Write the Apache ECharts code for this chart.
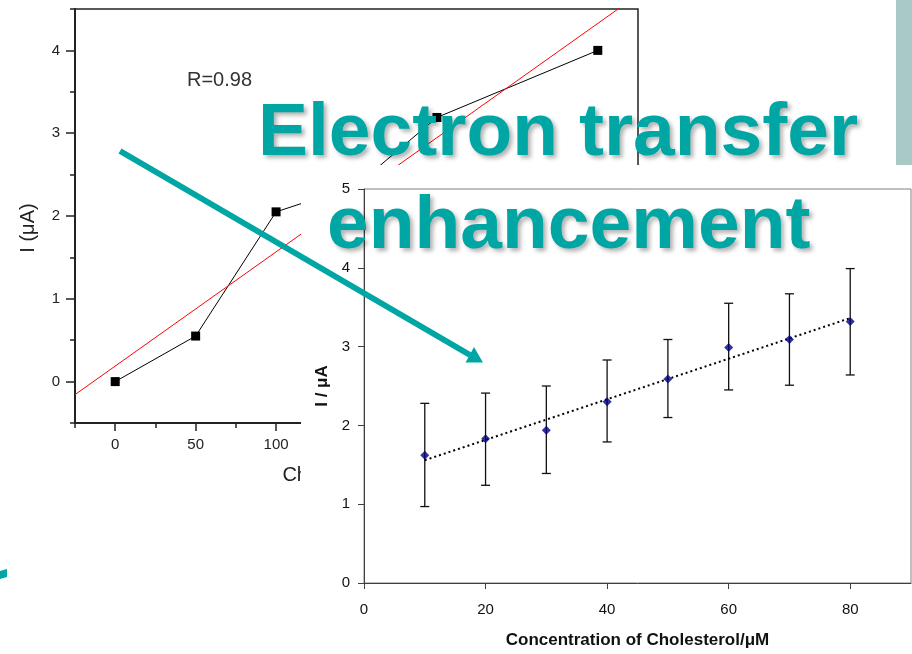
<!DOCTYPE html>
<html>
<head>
<meta charset="utf-8">
<script src="https://cdn.jsdelivr.net/npm/echarts@6/dist/echarts.min.js"></script>
<style>
  html, body { margin: 0; padding: 0; background: #fff; }
  #chart { width: 912px; height: 654px; }
</style>
</head>
<body>
<div id="chart"></div>
<script>
// Earlier calibration run (background panel)
const calibConc = [0, 50, 100, 150, 200, 300];
const calibCurrent = [0, 0.55, 2.05, 2.37, 3.19, 4.0];
const calibXMajor = [0, 50, 100, 150, 200, 250, 300];
const calibXMinor = [-25, 25, 75, 125, 175, 225, 275, 325];
const calibYMajor = [0, 1, 2, 3, 4];
const calibYMinor = [-0.5, 0.5, 1.5, 2.5, 3.5, 4.5];

// Cholesterol response with error bars (front panel)
const conc = [10, 20, 30, 40, 50, 60, 70, 80];
const current = [1.62, 1.83, 1.94, 2.30, 2.59, 2.99, 3.09, 3.32];
const errLow = [0.97, 1.24, 1.39, 1.79, 2.10, 2.45, 2.51, 2.64];
const errHigh = [2.28, 2.41, 2.50, 2.83, 3.09, 3.55, 3.67, 3.99];
const concTicks = [0, 20, 40, 60, 80];

const FONT = '"Liberation Sans", Arial, Helvetica, sans-serif';
const TEAL = '#00a6a3';

// ordinary least-squares fit
function linFit(xs, ys) {
  const n = xs.length;
  const mx = xs.reduce((a, b) => a + b, 0) / n;
  const my = ys.reduce((a, b) => a + b, 0) / n;
  let sxy = 0, sxx = 0;
  for (let i = 0; i < n; i++) {
    sxy += (xs[i] - mx) * (ys[i] - my);
    sxx += (xs[i] - mx) * (xs[i] - mx);
  }
  const slope = sxy / sxx;
  return { slope, intercept: my - slope * mx };
}

const calibFit = linFit(calibConc, calibCurrent);
const calibFitLine = [-25, 325].map(x => [x, calibFit.intercept + calibFit.slope * x]);

const fit = linFit(conc, current);
const fitLine = [conc[0], conc[conc.length - 1]].map(x => [x, fit.intercept + fit.slope * x]);

const chart = echarts.init(document.getElementById('chart'), null, { renderer: 'canvas' });

const backAxisColor = '#222';
const frontAxisColor = '#404040';

const option = {
  animation: false,
  backgroundColor: '#fff',
  grid: [
    { left: 75, top: 9, right: 274, bottom: 231, show: true, borderColor: '#222', borderWidth: 1.5, z: 0 },
    { left: 364, top: 189, right: 1, bottom: 69, show: true, borderColor: '#808080', borderWidth: 1, backgroundColor: '#fff', z: 11 }
  ],
  xAxis: [
    {
      gridIndex: 0, type: 'value', min: -25, max: 325, position: 'bottom', z: 2,
      axisLine: { onZero: false, lineStyle: { color: backAxisColor, width: 2 } },
      axisTick: { customValues: calibXMajor, length: 8, lineStyle: { color: backAxisColor, width: 1.5 } },
      axisLabel: { customValues: calibXMajor, fontSize: 15, color: '#222', margin: 14, fontFamily: FONT },
      splitLine: { show: false },
      name: 'Cholesterol (μM)', nameLocation: 'middle', nameGap: 42,
      nameTextStyle: { fontSize: 20, color: '#222', fontFamily: FONT }
    },
    {
      gridIndex: 0, type: 'value', min: -25, max: 325, position: 'bottom', z: 2,
      axisLine: { show: false, onZero: false },
      axisTick: { customValues: calibXMinor, length: 5, lineStyle: { color: backAxisColor, width: 1.5 } },
      axisLabel: { show: false },
      splitLine: { show: false }
    },
    {
      gridIndex: 1, type: 'value', min: 0, max: 90, position: 'bottom', z: 12,
      axisLine: { onZero: false, lineStyle: { color: frontAxisColor, width: 1 } },
      axisTick: { customValues: concTicks, length: 6, lineStyle: { color: frontAxisColor } },
      axisLabel: { customValues: concTicks, fontSize: 15, color: '#111', margin: 19, fontFamily: FONT },
      splitLine: { show: false },
      name: 'Concentration of Cholesterol/μM', nameLocation: 'middle', nameGap: 49,
      nameTextStyle: { fontSize: 17, fontWeight: 'bold', color: '#111', fontFamily: FONT }
    }
  ],
  yAxis: [
    {
      gridIndex: 0, type: 'value', min: -0.5, max: 4.5, position: 'left', z: 2,
      axisLine: { onZero: false, lineStyle: { color: backAxisColor, width: 2 } },
      axisTick: { customValues: calibYMajor, length: 9, lineStyle: { color: backAxisColor, width: 1.5 } },
      axisLabel: { customValues: calibYMajor, fontSize: 15, color: '#222', margin: 15, fontFamily: FONT },
      splitLine: { show: false },
      name: 'I (μA)', nameLocation: 'middle', nameGap: 37, nameRotate: 90,
      nameTextStyle: { fontSize: 20, color: '#222', fontFamily: FONT, padding: [0, 24, 0, 0] }
    },
    {
      gridIndex: 0, type: 'value', min: -0.5, max: 4.5, position: 'left', z: 2,
      axisLine: { show: false, onZero: false },
      axisTick: { customValues: calibYMinor, length: 5, lineStyle: { color: backAxisColor, width: 1.5 } },
      axisLabel: { show: false },
      splitLine: { show: false }
    },
    {
      gridIndex: 1, type: 'value', min: 0, max: 5, interval: 1, position: 'left', z: 12,
      axisLine: { show: true, onZero: false, lineStyle: { color: frontAxisColor, width: 1 } },
      axisTick: { show: true, length: 6, lineStyle: { color: frontAxisColor } },
      axisLabel: { fontSize: 15, color: '#111', margin: 14, fontFamily: FONT },
      splitLine: { show: false },
      name: 'I / μA', nameLocation: 'middle', nameGap: 33, nameRotate: 90,
      nameTextStyle: { fontSize: 17, fontWeight: 'bold', color: '#111', fontFamily: FONT }
    }
  ],
  series: [
    {
      type: 'line', xAxisIndex: 0, yAxisIndex: 0, z: 3,
      data: calibConc.map((x, i) => [x, calibCurrent[i]]),
      symbol: 'rect', symbolSize: 9,
      itemStyle: { color: '#000' },
      lineStyle: { color: '#000', width: 1 }
    },
    {
      type: 'line', xAxisIndex: 0, yAxisIndex: 0, z: 4,
      data: calibFitLine, symbol: 'none', clip: true,
      lineStyle: { color: '#ff0000', width: 1 }
    },
    {
      type: 'custom', xAxisIndex: 2, yAxisIndex: 2, z: 13,
      data: conc.map((x, i) => [x, errLow[i], errHigh[i]]),
      encode: { x: 0, y: [1, 2] },
      renderItem: function (params, api) {
        const x = api.value(0);
        const lo = api.coord([x, api.value(1)]);
        const hi = api.coord([x, api.value(2)]);
        const cap = 4.5;
        const style = { stroke: '#111', lineWidth: 1.3 };
        return {
          type: 'group',
          children: [
            { type: 'line', shape: { x1: lo[0], y1: lo[1], x2: hi[0], y2: hi[1] }, style },
            { type: 'line', shape: { x1: hi[0] - cap, y1: hi[1], x2: hi[0] + cap, y2: hi[1] }, style },
            { type: 'line', shape: { x1: lo[0] - cap, y1: lo[1], x2: lo[0] + cap, y2: lo[1] }, style }
          ]
        };
      }
    },
    {
      type: 'line', xAxisIndex: 2, yAxisIndex: 2, z: 14,
      data: fitLine, symbol: 'none',
      lineStyle: { color: '#000', width: 2, type: [2, 3] }
    },
    {
      type: 'scatter', xAxisIndex: 2, yAxisIndex: 2, z: 15,
      data: conc.map((x, i) => [x, current[i]]),
      symbol: 'diamond', symbolSize: 9,
      itemStyle: { color: '#000080' }
    }
  ],
  graphic: [
    // white backing card for the front panel
    { type: 'rect', z: 10, shape: { x: 301, y: 165, width: 611, height: 489 }, style: { fill: '#fff' } },
    // fit quality label on the calibration panel
    { type: 'text', z: 5, x: 187, y: 80, style: { text: 'R=0.98', font: '20px ' + FONT, fill: '#333', verticalAlign: 'middle' } },
    // decorative side bar
    { type: 'rect', z: 30, shape: { x: 896, y: 0, width: 16, height: 165 }, style: { fill: '#a9c9c7' } },
    // pointer arrow
    { type: 'line', z: 30, shape: { x1: 120, y1: 151, x2: 470, y2: 355 }, style: { stroke: TEAL, lineWidth: 6 } },
    { type: 'polygon', z: 30, shape: { points: [[483, 362.5], [465.5, 362.5], [474, 347]] }, style: { fill: TEAL } },
    { type: 'polygon', z: 30, shape: { points: [[0, 571], [7, 569], [7, 577], [0, 579]] }, style: { fill: TEAL } },
    // headline
    {
      type: 'text', z: 31, x: 258, y: 134,
      style: {
        text: 'Electron transfer', font: 'bold 75px ' + FONT, fill: TEAL, verticalAlign: 'middle',
        textShadowColor: 'rgba(0,0,0,0.3)', textShadowBlur: 4, textShadowOffsetX: 3, textShadowOffsetY: 3
      }
    },
    {
      type: 'text', z: 31, x: 327, y: 227,
      style: {
        text: 'enhancement', font: 'bold 75px ' + FONT, fill: TEAL, verticalAlign: 'middle',
        textShadowColor: 'rgba(0,0,0,0.3)', textShadowBlur: 4, textShadowOffsetX: 3, textShadowOffsetY: 3
      }
    }
  ]
};

chart.setOption(option);
</script>
</body>
</html>
